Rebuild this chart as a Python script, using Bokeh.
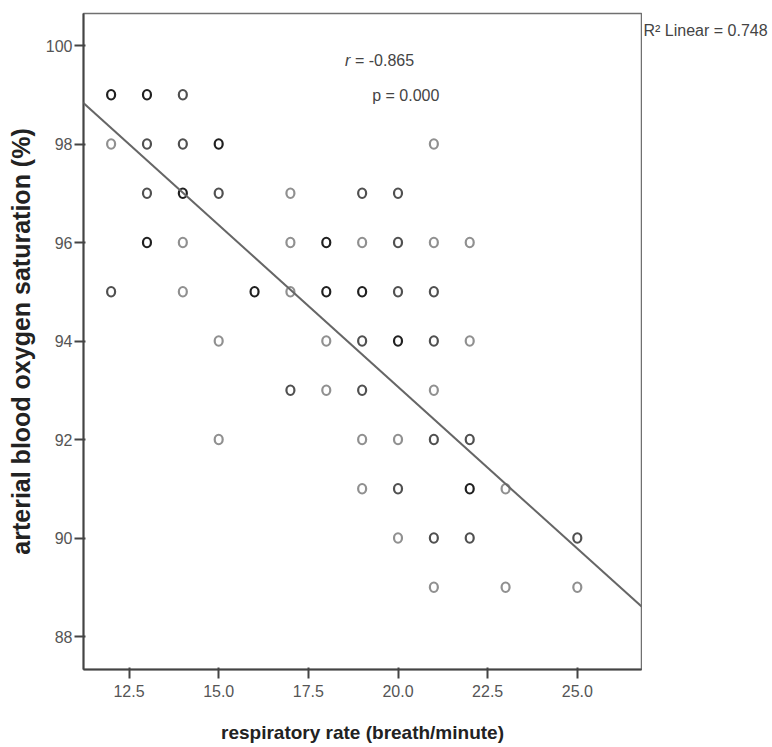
from bokeh.plotting import figure
from bokeh.models import ColumnDataSource, Slope, Label, FixedTicker, Range1d
from bokeh.layouts import row
from bokeh.embed import file_html
from bokeh.resources import INLINE

# ---- data ----
# respiratory rate (x), oxygen saturation (y), and how many observations overlap (count)
resp_rate = [12, 13, 14,
             12, 13, 14, 15, 21,
             13, 14, 15, 17, 19, 20,
             13, 14, 17, 18, 19, 20, 21, 22,
             12, 14, 16, 17, 18, 19, 20, 21,
             15, 18, 19, 20, 21, 22,
             17, 18, 19, 21,
             15, 19, 20, 21, 22,
             19, 20, 22, 23,
             20, 21, 22, 25,
             21, 23, 25]
spo2 = [99, 99, 99,
        98, 98, 98, 98, 98,
        97, 97, 97, 97, 97, 97,
        96, 96, 96, 96, 96, 96, 96, 96,
        95, 95, 95, 95, 95, 95, 95, 95,
        94, 94, 94, 94, 94, 94,
        93, 93, 93, 93,
        92, 92, 92, 92, 92,
        91, 91, 91, 91,
        90, 90, 90, 90,
        89, 89, 89]
count = [3, 3, 2,
         1, 2, 2, 3, 1,
         2, 3, 2, 1, 2, 2,
         3, 1, 1, 3, 1, 2, 1, 1,
         2, 1, 3, 1, 3, 3, 2, 2,
         1, 1, 2, 3, 2, 1,
         2, 1, 2, 1,
         1, 1, 1, 2, 2,
         1, 2, 3, 1,
         1, 2, 2, 2,
         1, 1, 1]

fit_slope = -0.657
fit_intercept = 106.21
r_text = "= -0.865"
p_text = "p = 0.000"
r2_text = "R\u00b2 Linear = 0.748"

x_ticks = [12.5, 15.0, 17.5, 20.0, 22.5, 25.0]
y_ticks = [88, 90, 92, 94, 96, 98, 100]

shade = {1: "#909090", 2: "#505050", 3: "#202020"}
colors = [shade[c] for c in count]

src = ColumnDataSource(dict(x=resp_rate, y=spo2, c=colors))

FONT = "Liberation Sans"
H = 745

p = figure(width=642, height=H, output_backend="svg", toolbar_location=None,
           x_range=Range1d(11.23, 26.79), y_range=Range1d(87.33, 100.65),
           min_border_left=83, min_border_right=1, min_border_top=13,
           min_border_bottom=76)

p.grid.visible = False
p.outline_line_color = "#707070"
p.outline_line_width = 1.5
p.background_fill_color = "white"
p.border_fill_color = "white"

for ax in (p.xaxis[0], p.yaxis[0]):
    ax.axis_line_color = "#444444"
    ax.axis_line_width = 2
    ax.major_tick_line_color = "#444444"
    ax.major_tick_line_width = 2
    ax.minor_tick_line_color = None
    ax.major_tick_out = 9
    ax.major_tick_in = 2
    ax.major_label_text_font = FONT
    ax.major_label_text_font_size = "16px"
    ax.major_label_text_color = "#555555"
    ax.axis_label_text_font = FONT
    ax.axis_label_text_font_style = "bold"
    ax.axis_label_text_color = "#222222"

p.xaxis.axis_label_text_font_size = "19px"
p.yaxis.axis_label_text_font_size = "25px"
p.xaxis.ticker = FixedTicker(ticks=x_ticks)
p.xaxis.major_label_overrides = {t: f"{t:.1f}" for t in x_ticks}
p.yaxis.ticker = FixedTicker(ticks=y_ticks)
p.xaxis.axis_label = "respiratory rate (breath/minute)"
p.yaxis.axis_label = "arterial blood oxygen saturation (%)"
p.xaxis.major_label_standoff = 6
p.yaxis.major_label_standoff = 2
p.xaxis.axis_label_standoff = 22
p.yaxis.axis_label_standoff = 8

p.ellipse(x="x", y="y", width=8, height=9.5, width_units="screen", height_units="screen",
          fill_color=None, line_color="c", line_width=2.2, source=src)

p.add_layout(Slope(gradient=fit_slope, y_intercept=fit_intercept,
                   line_color="#666666", line_width=2))

p.add_layout(Label(x=18.52, y=99.70, text="r", text_font=FONT, text_font_style="italic",
                   text_font_size="16px", text_color="#444444", text_baseline="middle"))
p.add_layout(Label(x=18.80, y=99.70, text=r_text, text_font=FONT,
                   text_font_size="16px", text_color="#444444", text_baseline="middle"))
p.add_layout(Label(x=19.28, y=98.98, text=p_text, text_font=FONT,
                   text_font_size="16px", text_color="#444444", text_baseline="middle"))

# side panel carrying the fit summary to the right of the plot frame
side = figure(width=128, height=H, output_backend="svg", toolbar_location=None,
              x_range=Range1d(0, 128), y_range=Range1d(H, 0),
              x_axis_location=None, y_axis_location=None,
              min_border_left=0, min_border_right=0, min_border_top=0, min_border_bottom=0)
side.grid.visible = False
side.outline_line_color = None
side.add_layout(Label(x=1, y=19, text=r2_text, text_font=FONT, text_font_size="16px",
                      text_color="#444444", text_baseline="middle"))

layout = row(p, side, spacing=0)
open("out.html", "w").write(file_html(layout, INLINE))
